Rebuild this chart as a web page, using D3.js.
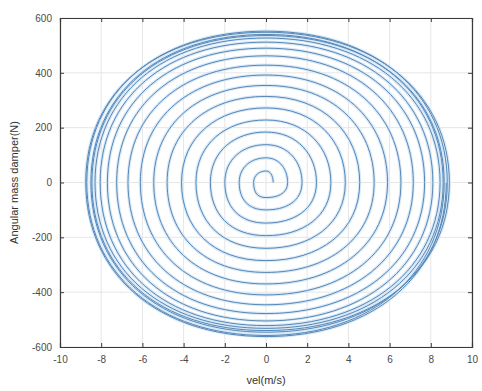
<!DOCTYPE html>
<html>
<head>
<meta charset="utf-8">
<script src="https://cdn.jsdelivr.net/npm/d3@7"></script>
<style>
  body { margin: 0; background: #fff; }
  text { font-family: "Liberation Sans", Arial, sans-serif; }
</style>
</head>
<body>
<div id="my_dataviz"></div>
<script>
// quarter-turn extremes of the spiral (one entry per turn)
// rightX / topY carry one extra entry: the spiral runs on past the last full turn
var rightX  = [0.35, 1.05, 1.75, 2.45, 3.15, 3.85, 4.55, 5.25, 5.9, 6.55, 7.15, 7.7, 8.1, 8.45, 8.6, 8.8, 8.65, 8.9, 8.75];
var topY    = [42, 90, 138, 184, 228, 272, 314, 354, 392, 428, 462, 490, 512, 527, 540, 552, 536, 548, 556];
var leftX   = [-0.6, -1.3, -2.0, -2.7, -3.4, -4.1, -4.8, -5.45, -6.1, -6.7, -7.25, -7.7, -8.05, -8.3, -8.5, -8.7, -8.45, -8.75];
var bottomY = [-55, -100, -148, -194, -240, -285, -328, -370, -410, -446, -478, -505, -522, -532, -546, -558, -540, -562];

var xTicks = [-10, -8, -6, -4, -2, 0, 2, 4, 6, 8, 10];
var yTicks = [-600, -400, -200, 0, 200, 400, 600];

// set the dimensions and margins of the graph
var margin = {top: 18, right: 10, bottom: 44, left: 60},
    width = 482 - margin.left - margin.right,
    height = 391 - margin.top - margin.bottom;

var svg = d3.select("#my_dataviz")
  .append("svg")
    .attr("width", 482)
    .attr("height", 391)
  .append("g")
    .attr("transform", "translate(" + margin.left + "," + margin.top + ")");

var x = d3.scaleLinear().domain([-10, 10]).range([0, width]);
var y = d3.scaleLinear().domain([-600, 600]).range([height, 0]);

// grid
svg.append("g").selectAll("line.gx")
  .data(xTicks)
  .enter().append("line")
    .attr("x1", function(d) { return x(d); })
    .attr("x2", function(d) { return x(d); })
    .attr("y1", 0).attr("y2", height)
    .style("stroke", "#e6e6e6").style("stroke-width", 1);
svg.append("g").selectAll("line.gy")
  .data(yTicks)
  .enter().append("line")
    .attr("y1", function(d) { return y(d); })
    .attr("y2", function(d) { return y(d); })
    .attr("x1", 0).attr("x2", width)
    .style("stroke", "#e6e6e6").style("stroke-width", 1);

// build spiral points from the quarter-turn extremes
// (first and last points only guide the open cardinal curve)
var pts = [[0, 0]];
rightX.forEach(function(d, i) {
  pts.push([rightX[i], 0]);
  pts.push([0, topY[i]]);
  if (i < leftX.length) {
    pts.push([leftX[i], 0]);
    pts.push([0, bottomY[i]]);
  }
});

var line = d3.line()
  .x(function(d) { return x(d[0]); })
  .y(function(d) { return y(d[1]); })
  .curve(d3.curveCardinalOpen.tension(-0.8));

// soft halo like the jpeg blur
svg.append("path")
  .datum(pts)
  .attr("d", line)
  .style("fill", "none")
  .style("stroke", "#d9e9f7")
  .style("stroke-width", 3.2);
svg.append("path")
  .datum(pts)
  .attr("d", line)
  .style("fill", "none")
  .style("stroke", "#5587b8")
  .style("stroke-width", 1);

// axes (ticks inside, box on)
var tickFmt = function(d) { return String(d); };
var axB = svg.append("g")
  .attr("transform", "translate(0," + height + ")")
  .call(d3.axisBottom(x).tickValues(xTicks).tickSize(-4).tickPadding(9).tickFormat(tickFmt));
var axL = svg.append("g")
  .call(d3.axisLeft(y).tickValues(yTicks).tickSize(-4).tickPadding(8).tickFormat(tickFmt));
var axT = svg.append("g")
  .call(d3.axisTop(x).tickValues(xTicks).tickSize(-4).tickFormat(""));
var axR = svg.append("g")
  .attr("transform", "translate(" + width + ",0)")
  .call(d3.axisRight(y).tickValues(yTicks).tickSize(-4).tickFormat(""));

[axB, axL, axT, axR].forEach(function(a) {
  a.selectAll(".domain").style("stroke", "#3a3a3a").style("stroke-width", 1.2);
  a.selectAll(".tick line").style("stroke", "#3a3a3a");
  a.selectAll("text").style("fill", "#4a4a4a").style("font-size", "10px");
});

// labels
svg.append("text")
  .attr("x", width / 2)
  .attr("y", height + 37)
  .attr("text-anchor", "middle")
  .style("font-size", "11px")
  .style("fill", "#333")
  .text("vel(m/s)");

svg.append("text")
  .attr("transform", "translate(" + (-42) + "," + (height / 2) + ") rotate(-90)")
  .attr("text-anchor", "middle")
  .style("font-size", "11px")
  .style("fill", "#333")
  .text("Angular mass damper(N)");
</script>
</body>
</html>
